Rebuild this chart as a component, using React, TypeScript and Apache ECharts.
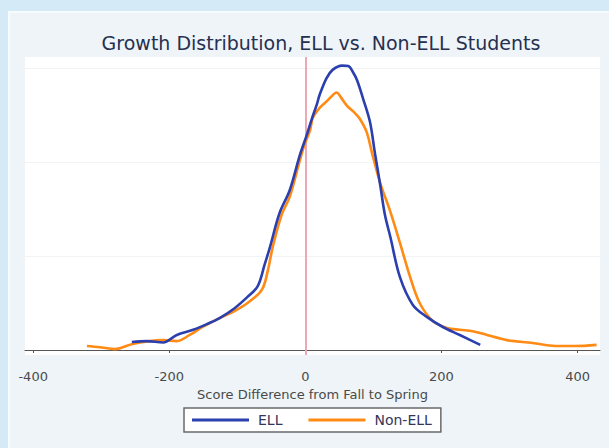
import React, { useEffect, useRef } from "react";
import * as echarts from "echarts";

const titleText = "Growth Distribution, ELL vs. Non-ELL Students";
const xAxisName = "Score Difference from Fall to Spring";
const xTicks = [-400, -200, 0, 200, 400];
const gridValues = [2, 4, 6];

const ellX = [-255, -233, -209, -189, -165, -145, -126, -104, -85, -70, -60, -52, -38, -23, -8, 2, 10, 17, 21, 31, 40, 54, 63, 70, 76, 85, 95, 102, 110, 117, 125, 139, 158, 179, 202, 227, 257];
const ellY = [0.17, 0.19, 0.16, 0.32, 0.43, 0.55, 0.68, 0.89, 1.13, 1.36, 1.81, 2.19, 2.91, 3.4, 4.15, 4.57, 4.94, 5.23, 5.43, 5.78, 5.96, 6.05, 6.04, 5.91, 5.74, 5.34, 4.85, 4.21, 3.51, 2.87, 2.4, 1.55, 0.96, 0.7, 0.49, 0.32, 0.11];

const nonEllX = [-321, -302, -280, -254, -229, -209, -189, -170, -151, -126, -104, -85, -64, -55, -48, -35, -23, -8, -1, 7, 11, 21, 32, 36, 46, 52, 61, 73, 80, 90, 98, 110, 124, 139, 154, 168, 187, 208, 227, 246, 267, 296, 334, 367, 396, 428];
const nonEllY = [0.085, 0.06, 0.02, 0.13, 0.19, 0.21, 0.19, 0.32, 0.49, 0.68, 0.83, 1.0, 1.28, 1.7, 2.19, 2.87, 3.26, 4.04, 4.38, 4.68, 4.94, 5.15, 5.3, 5.36, 5.48, 5.38, 5.2, 5.04, 4.92, 4.64, 4.19, 3.55, 2.98, 2.28, 1.55, 1.0, 0.62, 0.47, 0.43, 0.4, 0.32, 0.21, 0.15, 0.085, 0.085, 0.11];

const FONT = "DejaVu Sans";

export default function App() {
  const ref = useRef<HTMLDivElement>(null);
  useEffect(() => {
    if (!ref.current) return;
    const chart = echarts.init(ref.current, null, { renderer: "svg" });
    const ell = ellX.map((x, i) => [x, ellY[i]]);
    const nonEll = nonEllX.map((x, i) => [x, nonEllY[i]]);
    chart.setOption({
      animation: false,
      backgroundColor: "#eef4f8",
      graphic: [
        { type: "rect", shape: { x: 0, y: 0, width: 609, height: 11 }, style: { fill: "#d4ebf7" }, silent: true },
        { type: "rect", shape: { x: 0, y: 0, width: 8, height: 448 }, style: { fill: "#d4ebf7" }, silent: true },
        { type: "rect", shape: { x: 8, y: 11, width: 601, height: 2 }, style: { fill: "#f6fbfd" }, silent: true },
        { type: "rect", shape: { x: 8, y: 11, width: 2, height: 437 }, style: { fill: "#f6fbfd" }, silent: true },
      ],
      title: {
        text: titleText,
        left: 316,
        top: 28,
        textAlign: "center",
        textStyle: { fontFamily: FONT, fontSize: 19, fontWeight: "normal", color: "#263050" },
      },
      grid: {
        left: 25,
        right: 9,
        top: 57,
        bottom: 93,
        show: true,
        backgroundColor: "#ffffff",
        borderWidth: 0,
      },
      legend: {
        left: 184,
        top: 408,
        padding: [5, 9, 5, 8],
        backgroundColor: "#ffffff",
        borderColor: "#6a6a6a",
        borderWidth: 1.5,
        itemWidth: 57,
        itemHeight: 3,
        itemGap: 26,
        icon: "rect",
        textStyle: { fontFamily: FONT, fontSize: 14, color: "#35355a", padding: [0, 0, 0, 4] },
        data: ["ELL", "Non-ELL"],
      },
      xAxis: {
        type: "value",
        min: -412,
        max: 433,
        offset: 4,
        name: xAxisName,
        nameLocation: "middle",
        nameGap: 24,
        nameTextStyle: { fontFamily: FONT, fontSize: 13, color: "#4a4a4a" },
        axisLine: { show: true, lineStyle: { color: "#555", width: 1 } },
        axisTick: { show: true, customValues: xTicks, length: 3, lineStyle: { color: "#555" } },
        axisLabel: { customValues: xTicks, margin: 11, fontFamily: FONT, fontSize: 13, color: "#4a4a4a" },
        splitLine: { show: false },
      },
      yAxis: {
        type: "value",
        min: -0.106,
        max: 6.234,
        show: false,
        splitLine: { show: false },
      },
      series: [
        {
          name: "ELL",
          type: "line",
          data: ell,
          symbol: "none",
          smooth: 0.35,
          z: 4,
          color: "#2b3fae",
          lineStyle: { color: "#2b3fae", width: 2.6 },
          markLine: {
            silent: true,
            symbol: "none",
            label: { show: false },
            z: 1,
            data: gridValues.map((v) => ({ yAxis: v, lineStyle: { color: "#f1f3f5", width: 1, type: "solid" } })),
          },
        },
        {
          name: "Non-ELL",
          type: "line",
          data: nonEll,
          symbol: "none",
          smooth: 0.35,
          z: 3,
          color: "#ff8a14",
          lineStyle: { color: "#ff8a14", width: 2.6 },
          markLine: {
            silent: true,
            symbol: "none",
            label: { show: false },
            z: 1,
            data: [{ xAxis: 0, lineStyle: { color: "#eea8b4", width: 2, type: "solid" } }],
          },
        },
      ],
    });
    return () => chart.dispose();
  }, []);
  return <div ref={ref} style={{ position: "absolute", left: 0, top: 0, width: 609, height: 448 }} />;
}
